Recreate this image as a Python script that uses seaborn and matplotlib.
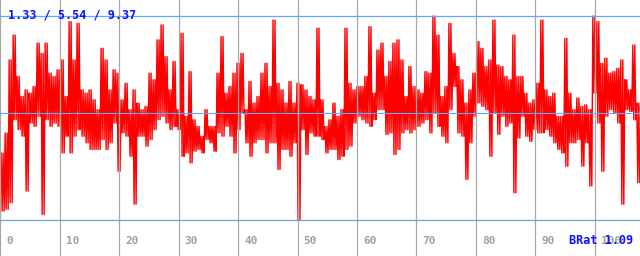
import numpy as np
import pandas as pd
import matplotlib
matplotlib.use("Agg")
import matplotlib.pyplot as plt
import matplotlib.transforms as mtransforms
import seaborn as sns

# ---- data (per 4-px bin: upper and lower envelope) ----
hi_vals = [
    # 0 .. 92 px
    3.97, 4.76, 7.64, 8.62, 6.99, 6.20, 6.46, 6.33, 6.59, 8.30, 7.90, 8.30, 7.12, 6.99, 7.25, 7.64, 6.20, 9.15, 7.64, 9.08, 6.46, 6.33, 6.46,
    # 92 .. 184 px
    6.07, 5.68, 8.10, 7.64, 6.46, 7.25, 7.12, 6.07, 6.72, 5.68, 6.46, 5.94, 5.68, 5.81, 7.12, 6.86, 8.43, 9.02, 7.77, 6.46, 7.58, 5.68, 8.69,
    # 184 .. 276 px
    5.42, 7.18, 5.28, 5.02, 4.63, 5.68, 5.02, 5.02, 7.12, 8.56, 6.33, 6.59, 7.12, 7.51, 7.90, 5.68, 6.79, 5.94, 6.20, 7.12, 7.51, 6.59, 9.21,
    # 276 .. 368 px
    6.72, 6.46, 5.94, 6.79, 5.94, 6.72, 6.66, 6.46, 6.20, 6.07, 8.89, 6.07, 5.02, 5.28, 5.94, 5.42, 5.68, 8.89, 6.72, 6.46, 6.59, 6.59, 6.99,
    # 368 .. 460 px
    8.95, 6.33, 8.03, 8.30, 6.99, 7.58, 8.30, 8.43, 7.64, 6.20, 7.38, 6.59, 6.46, 6.33, 7.18, 7.12, 9.37, 8.62, 6.20, 6.59, 9.08, 7.90, 7.38,
    # 460 .. 552 px
    6.86, 5.94, 6.46, 7.12, 8.36, 8.10, 7.38, 7.64, 9.21, 7.44, 7.38, 6.99, 6.86, 8.62, 6.99, 6.99, 6.33, 5.94, 6.07, 6.72, 9.21, 6.46, 6.20,
    # 552 .. 640 px
    6.33, 5.42, 5.42, 8.49, 6.33, 5.68, 6.14, 5.81, 5.87, 5.68, 9.37, 9.15, 7.51, 7.71, 7.12, 7.18, 7.31, 7.64, 6.86, 6.46, 8.23, 5.94,
]
lo_vals = [
    1.68, 1.75, 2.01, 5.28, 4.89, 4.63, 2.47, 5.15, 5.02, 5.42, 1.55, 5.28, 5.02, 5.15, 5.02, 3.97, 4.63, 3.97, 4.63, 4.89, 4.63, 4.37, 4.11,
    4.11, 4.11, 4.50, 4.11, 4.37, 5.15, 3.25, 4.76, 4.63, 3.84, 1.95, 4.63, 4.63, 4.24, 4.50, 4.89, 5.28, 5.42, 5.15, 4.89, 5.02, 4.89, 3.84,
    3.97, 3.58, 4.04, 4.11, 3.97, 4.50, 4.37, 4.04, 4.76, 4.63, 5.02, 4.63, 3.97, 4.89, 5.54, 4.37, 3.84, 4.37, 4.50, 4.50, 3.97, 4.37, 4.37,
    3.32, 4.11, 4.11, 3.84, 4.37, 1.33, 4.89, 3.91, 4.76, 4.63, 4.63, 4.50, 3.97, 4.11, 4.11, 3.71, 3.84, 4.11, 4.24, 5.15, 5.42, 5.28, 5.15,
    5.02, 5.28, 5.68, 5.68, 4.70, 4.76, 3.91, 4.11, 4.76, 4.89, 4.76, 4.89, 5.02, 5.15, 5.28, 4.76, 5.54, 5.02, 4.63, 4.37, 5.68, 6.59, 4.76,
    4.63, 2.93, 4.37, 5.42, 5.94, 5.81, 5.68, 3.84, 5.54, 4.70, 5.42, 5.02, 5.15, 2.40, 4.56, 5.42, 4.63, 4.43, 4.89, 4.76, 4.76, 4.89, 4.63,
    4.37, 4.11, 3.97, 3.45, 4.37, 4.37, 4.50, 3.45, 4.37, 2.67, 6.33, 5.15, 3.25, 5.42, 5.68, 5.54, 5.15, 1.95, 5.68, 5.61, 5.28, 2.80,
]
x_start = 0.0
x_end = 107.6
x_ticks = [0, 10, 20, 30, 40, 50, 60, 70, 80, 90, 100]
tick_labels = ["0", "10", "20", "30", "40", "50", "60", "70", "80", "90", "100"]
v_min, v_avg, v_max = 1.33, 5.54, 9.37
stats_label = "1.33 / 5.54 / 9.37"
ratio_label = "BRat 1.09"

# ---- build the series (hi then lo inside each bin) ----
n = len(hi_vals)
edges = np.linspace(x_start, x_end, n + 1)
w = edges[1] - edges[0]
xs, ys = [], []
for i in range(n):
    xs += [edges[i] + 0.2 * w, edges[i] + 0.45 * w, edges[i] + 0.7 * w, edges[i] + 0.95 * w]
    ys += [hi_vals[i], lo_vals[i], hi_vals[i], lo_vals[i]]
df = pd.DataFrame({"x": xs, "v": ys})

sns.set_style("white")
fig = plt.figure(figsize=(6.4, 2.56), dpi=100)
ax = fig.add_axes([0, 0, 1, 1])

sns.lineplot(data=df, x="x", y="v", ax=ax, color="#ff0000", linewidth=1.0,
             estimator=None, sort=False, zorder=2)

k = (v_max - v_min) / 204.0
ax.set_ylim(v_min - 36 * k, v_max + 16 * k)
ax.set_xlim(-0.06, x_end)

for t in x_ticks:
    ax.axvline(t, color="#a8a8a8", linewidth=0.9, zorder=3)
ax.axhline(v_max, color="#5aaaff", linewidth=0.9, zorder=4)
ax.axhline(v_avg, color="#5aaaff", linewidth=0.8, zorder=4)
ax.axhline(v_min, color="#6ca0dc", linewidth=0.9, zorder=4)

ax.set_axis_off()
ax.set_xlabel("")
ax.set_ylabel("")

mono = ["DejaVu Sans Mono"]
blend = mtransforms.blended_transform_factory(ax.transData, ax.transAxes)
for t, lab in zip(x_ticks, tick_labels):
    tr = mtransforms.offset_copy(blend, fig=fig, x=6, y=0, units="dots")
    ax.text(t, 1 - 241 / 256, lab, transform=tr, ha="left", va="center",
            color="#a0a0a0", fontsize=8, fontweight="bold", family=mono, zorder=5)

ax.text(8 / 640, 1 - 15 / 256, stats_label, transform=ax.transAxes, ha="left",
        va="center", color="#1010ff", fontsize=8.5, fontweight="bold", family=mono, zorder=6)
ax.text(633 / 640, 1 - 241 / 256, ratio_label, transform=ax.transAxes, ha="right",
        va="center", color="#1010ff", fontsize=8.5, fontweight="bold", family=mono, zorder=6)

fig.savefig("out.png", dpi=100)
